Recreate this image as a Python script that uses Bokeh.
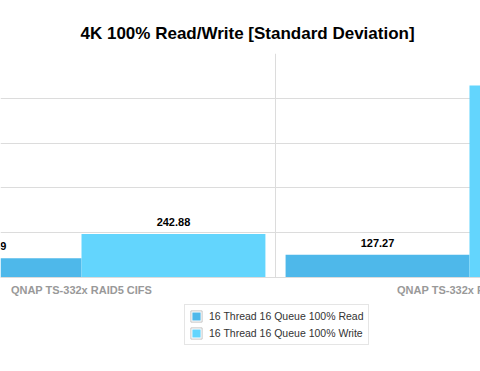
from bokeh.plotting import figure
from bokeh.models import ColumnDataSource, FixedTicker, Range1d, LabelSet, Legend, LegendItem, Span
from bokeh.transform import dodge
from bokeh.core.properties import value
from bokeh.embed import file_html
from bokeh.resources import INLINE

# ---- data ----
categories = ["QNAP TS-332x RAID5 CIFS", "QNAP TS-332x RAID5 iSCSI"]
read_values = [107.69, 127.27]
write_values = [242.88, 1071.0]
read_labels = ["107.69", "127.27"]
write_labels = ["242.88", "1071.00"]
series_names = ["16 Thread 16 Queue 100% Read", "16 Thread 16 Queue 100% Write"]
y_ticks = [250, 500, 750, 1000, 1250]

idx = list(range(len(categories)))
src = ColumnDataSource(dict(x=idx, zero=[0] * len(idx), cat=categories,
                            read=read_values, write=write_values,
                            rl=read_labels, wl=write_labels))

READ_C = "#4eb8ea"
WRITE_C = "#63d5fd"
GRID_C = "#dcdcdc"

ymax = y_ticks[-1]
ymin = -ymax * 94 / 224  # room under the baseline for labels and legend

p = figure(width=480, height=371, output_backend="svg", toolbar_location=None,
           x_range=Range1d(-0.2088, 1.0284), y_range=Range1d(ymin, ymax),
           min_border_left=0, min_border_right=0, min_border_top=53,
           min_border_bottom=0, title="4K 100% Read/Write [Standard Deviation]")
p.outline_line_color = None
p.background_fill_color = "white"
p.border_fill_color = "white"
p.xaxis.visible = False
p.yaxis.visible = False
p.xgrid.visible = False

p.title.align = "left"
p.title.offset = 80
p.title.text_font = "Liberation Sans"
p.title.text_font_size = "17px"
p.title.text_font_style = "bold"
p.title.text_color = "#000000"
p.title.standoff = 22

p.ygrid.ticker = FixedTicker(ticks=y_ticks)
p.ygrid.grid_line_color = GRID_C

# category dividers and baseline
mids = [i + 0.5 for i in idx]
p.segment(x0=mids, y0=[0] * len(mids), x1=mids, y1=[ymax] * len(mids),
          line_color=GRID_C, line_width=1)
p.add_layout(Span(location=0, dimension="width", line_color=GRID_C, line_width=1))

bw = 0.474
off = 0.237
r_read = p.vbar(x=dodge("x", -off, range=p.x_range), top="read", width=bw, source=src,
                fill_color=READ_C, line_color=None)
r_write = p.vbar(x=dodge("x", off, range=p.x_range), top="write", width=bw, source=src,
                 fill_color=WRITE_C, line_color=None)

# zero-size helpers: invisible in the plot, they only frame the legend swatches
r_gap = p.vbar(x="x", top="zero", width=0, source=src,
               fill_color=None, line_color="white", line_width=3)
r_frame = p.vbar(x="x", top="zero", width=0, source=src,
                 fill_color=None, line_color="#c4c4c4", line_width=1)

for col, lab, d in (("read", "rl", -off), ("write", "wl", off)):
    ls = LabelSet(x=dodge("x", d, range=p.x_range), y=col, text=lab, source=src,
                  text_align="center", text_baseline="alphabetic", y_offset=8,
                  text_font=value("Liberation Sans"), text_font_size=value("11px"),
                  text_font_style="bold", text_color="#000000")
    p.add_layout(ls)

# category labels under the baseline
p.text(x="x", y="zero", text="cat", source=src, y_offset=6,
       text_align="center", text_baseline="top",
       text_font=value("Liberation Sans"), text_font_size=value("11px"),
       text_font_style="bold", text_color="#999999")

lg = Legend(items=[LegendItem(label=series_names[0], renderers=[r_read, r_gap, r_frame]),
                   LegendItem(label=series_names[1], renderers=[r_write, r_gap, r_frame])])
lg.location = (184, 26)
lg.orientation = "vertical"
lg.border_line_color = "#cccccc"
lg.border_line_width = 1
lg.background_fill_color = "white"
lg.background_fill_alpha = 1
lg.padding = 4
lg.margin = 0
lg.spacing = 3
lg.glyph_width = 14
lg.glyph_height = 14
lg.label_height = 14
lg.label_standoff = 6
lg.label_text_font = "Liberation Sans"
lg.label_text_font_size = "10.5px"
lg.label_text_color = "#333333"
p.add_layout(lg, "center")

open("out.html", "w").write(file_html(p, INLINE))
